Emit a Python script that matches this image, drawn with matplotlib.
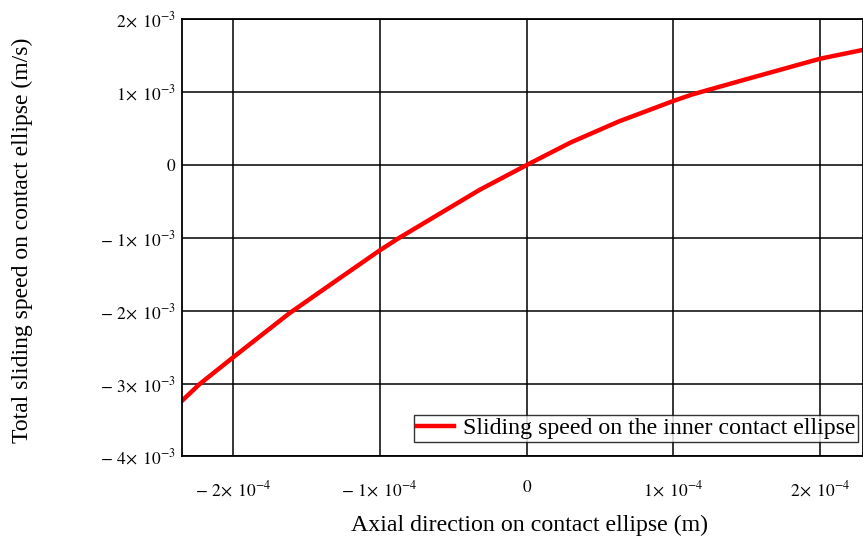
import matplotlib
matplotlib.use('Agg')
import matplotlib.pyplot as plt

# values (x in m, y in m/s)
x_pos = [-2.35e-4, -2.23e-4, -2.00e-4, -1.62e-4, -1.343e-4, -1.00e-4,
         -0.877e-4, -0.661e-4, -0.32e-4, 0.0, 0.30e-4, 0.63e-4, 1.00e-4,
         1.13e-4, 1.50e-4, 2.00e-4, 2.29e-4]
speed = [-3.24e-3, -3.01e-3, -2.64e-3, -2.04e-3, -1.65e-3, -1.17e-3,
         -1.01e-3, -0.75e-3, -0.34e-3, 0.0, 0.31e-3, 0.60e-3, 0.88e-3,
         0.97e-3, 1.18e-3, 1.46e-3, 1.58e-3]

x_ticks = [-2e-4, -1e-4, 0, 1e-4, 2e-4]
x_labels = [r'$\mathrm{-\ 2\!\times\ 10^{-4}}$', r'$\mathrm{-\ 1\!\times\ 10^{-4}}$', r'$\mathrm{0}$',
            r'$\mathrm{1\!\times\ 10^{-4}}$', r'$\mathrm{2\!\times\ 10^{-4}}$']
y_ticks = [-4e-3, -3e-3, -2e-3, -1e-3, 0, 1e-3, 2e-3]
y_labels = [r'$\mathrm{-\ 4\!\times\ 10^{-3}}$', r'$\mathrm{-\ 3\!\times\ 10^{-3}}$',
            r'$\mathrm{-\ 2\!\times\ 10^{-3}}$', r'$\mathrm{-\ 1\!\times\ 10^{-3}}$', r'$\mathrm{0}$',
            r'$\mathrm{1\!\times\ 10^{-3}}$', r'$\mathrm{2\!\times\ 10^{-3}}$']

plt.rcParams['font.family'] = ['Liberation Serif', 'DejaVu Serif']
plt.rcParams['mathtext.fontset'] = 'stix'

fig = plt.figure(figsize=(8.63, 5.41), dpi=100)
ax = fig.add_axes([0.2105, 0.1562, 0.7895, 0.8081])

ax.plot(x_pos, speed, color='#ff0000', lw=3.2, label='Sliding speed on the inner contact ellipse')
ax.set_xlim(-2.35e-4, 2.291e-4)
ax.set_ylim(-4e-3, 2e-3)

ax.set_xticks(x_ticks)
ax.set_xticklabels(x_labels, fontsize=12.5)
ax.set_yticks(y_ticks)
ax.set_yticklabels(y_labels, fontsize=12.5)
ax.tick_params(length=0)
ax.tick_params(axis='x', pad=17)
ax.tick_params(axis='y', pad=4)
ax.grid(True, color='black', lw=1.1)
ax.set_axisbelow(True)
for s in ax.spines.values():
    s.set_color('black')
    s.set_linewidth(1.3)

leg = ax.legend(loc='lower right', bbox_to_anchor=(0.993, 0.033), fontsize=17.2,
                frameon=True, fancybox=False, edgecolor='black', handlelength=1.55,
                borderpad=0.12, handletextpad=0.38, borderaxespad=0)
leg.get_frame().set_linewidth(1.0)

fig.text(0.614, 0.0296, 'Axial direction on contact ellipse (m)', fontsize=17.2,
         ha='center', va='center')
fig.text(0.0255, 0.556, 'Total sliding speed on contact ellipse (m/s)', fontsize=17,
         rotation=90, ha='center', va='center')

fig.savefig('out.png', dpi=100)
